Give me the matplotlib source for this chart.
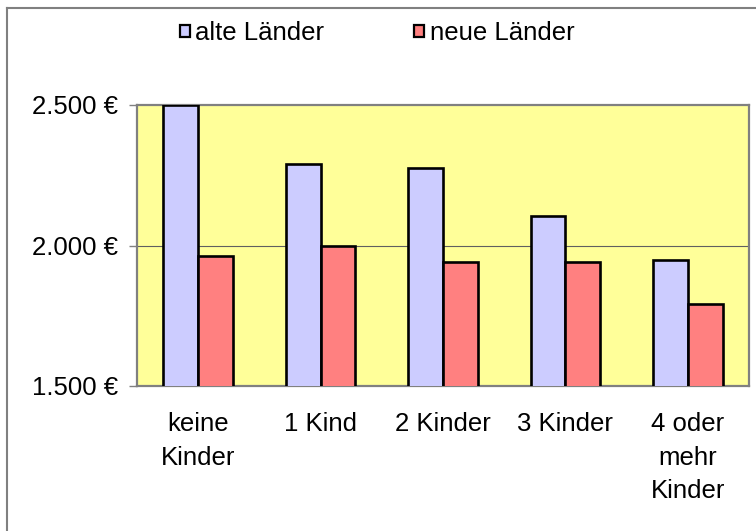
import matplotlib
matplotlib.use("Agg")
import matplotlib.pyplot as plt
import numpy as np
from matplotlib.lines import Line2D

categories = ["keine\nKinder", "1 Kind", "2 Kinder", "3 Kinder", "4 oder\nmehr\nKinder"]
alte = [2500, 2290, 2275, 2105, 1948]
neue = [1964, 1998, 1940, 1940, 1792]
series_names = ["alte Länder", "neue Länder"]
yticks = [1500, 2000, 2500]
ytick_labels = ["1.500 €", "2.000 €", "2.500 €"]

plt.rcParams['font.family'] = ['Liberation Sans', 'DejaVu Sans']
FS = 18.5

W, H = 756, 531
fig = plt.figure(figsize=(W/100, H/100), dpi=100)
fig.patch.set_facecolor('white')

# outer chart frame (left and top edges visible)
fig.add_artist(Line2D([7/W, 7/W], [0, 1-8/H], transform=fig.transFigure, color='#808080', lw=1.5))
fig.add_artist(Line2D([7/W, 1], [1-8/H, 1-8/H], transform=fig.transFigure, color='#808080', lw=1.5))

ax = fig.add_axes([137/W, 1-386/H, (749-137)/W, (386-105)/H])
ax.set_facecolor('#FFFF99')

x = np.arange(len(categories))
w = 0.285
ax.bar(x - w/2, alte, width=w, color='#CCCCFF', edgecolor='black', linewidth=1.9, label=series_names[0], zorder=3)
ax.bar(x + w/2, neue, width=w, color='#FF8080', edgecolor='black', linewidth=1.9, label=series_names[1], zorder=3)

ax.set_ylim(1500, 2500)
ax.set_xlim(-0.5, len(categories) - 0.5)
ax.set_yticks(yticks)
ax.set_yticklabels(ytick_labels, fontsize=FS)
ax.set_xticks(x)
ax.set_xticklabels(categories, fontsize=FS, linespacing=1.52, va='top')
ax.tick_params(axis='x', length=0, pad=18.5)
ax.tick_params(axis='y', length=6, width=1, color='#808080', pad=7.5)
ax.axhline(2000, color='#606060', lw=0.8, zorder=1)
for s in ax.spines.values():
    s.set_color('#808080')
    s.set_linewidth(1.6)

leg = fig.legend(loc='center', bbox_to_anchor=(377/W, 1-33/H), ncol=2, frameon=False,
                 fontsize=FS, handlelength=0.38, handleheight=0.35, handletextpad=0.22,
                 columnspacing=3.5, borderpad=0, borderaxespad=0)
for p in leg.get_patches():
    p.set_linewidth(1.6)

fig.savefig("out.png", dpi=100)
